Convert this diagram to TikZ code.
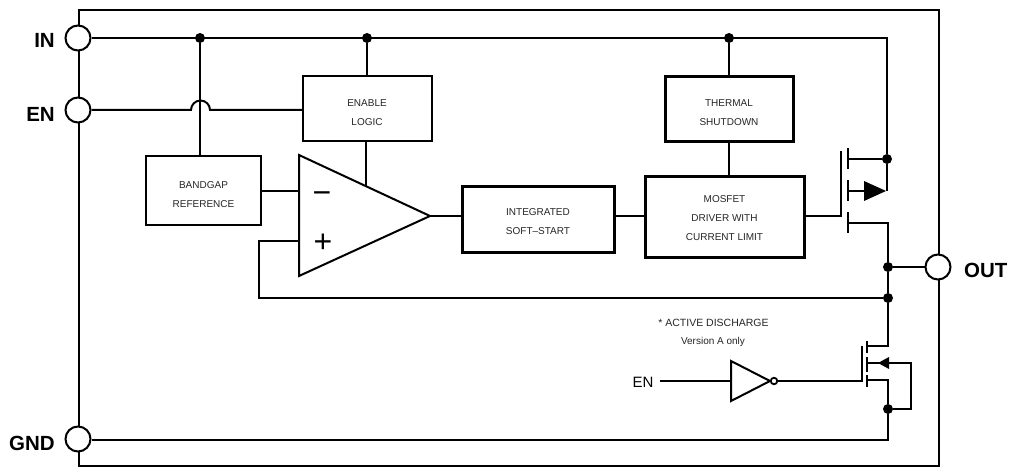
\documentclass[tikz,border=0pt]{standalone}
\usepackage{fontspec}
\setmainfont{Liberation Sans}
\usetikzlibrary{calc}
\tikzset{
  wire/.style={line width=2pt,black,line join=miter},
  blockbox/.style={draw,line width=2pt,fill=white,inner sep=0pt},
  heavybox/.style={blockbox,line width=3pt},
  blocktext/.style={align=center,inner sep=0pt,font=\fontsize{10}{19}\selectfont,text=black!85},
  pin/.style={circle,draw,line width=2pt,fill=white,minimum size=25pt,inner sep=0pt},
  dot/.style={circle,fill=black,minimum size=10pt,inner sep=0pt},
  pinlabel/.style={font=\fontsize{20.5}{24}\selectfont\bfseries,inner sep=0pt},
  note/.style={font=\fontsize{10.5}{12}\selectfont,inner sep=0pt,text=black!85},
  sign/.style={font=\fontsize{32}{32}\selectfont,inner sep=0pt},
  bar/.style={line width=2.2pt}
}
\begin{document}
\begin{tikzpicture}[x=1pt,y=-1pt]
\path[use as bounding box,fill=white] (0,0) rectangle (1010,468);
% package frame
\draw[wire] (79,10) rectangle (939,466);
% pins
\node[pin] (pinIN) at (78,38) {};
\node[pin] (pinEN) at (78,110) {};
\node[pin] (pinGND) at (78,439) {};
\node[pin] (pinOUT) at (938,267) {};
\node[pinlabel,anchor=east] (lblIN) at (55,40) {IN};
\node[pinlabel,anchor=east] (lblEN) at (55,114) {EN};
\node[pinlabel,anchor=east] (lblGND) at (55,443) {GND};
\node[pinlabel,anchor=west] (lblOUT) at (964,270) {OUT};
% blocks
\node[blockbox,minimum width=129pt,minimum height=65pt] (enable) at (367.5,108.5) {};
\node[blocktext] (enableT) at (367,112.5) {ENABLE\\LOGIC};
\node[blockbox,minimum width=115pt,minimum height=69pt] (bandgap) at (203.5,190.5) {};
\node[blocktext] (bandgapT) at (203.5,194.5) {BANDGAP\\REFERENCE};
\node[heavybox,minimum width=152pt,minimum height=65pt] (soft) at (538,219.5) {};
\node[blocktext] (softT) at (538,221.5) {INTEGRATED\\SOFT--START};
\node[heavybox,minimum width=128pt,minimum height=65pt] (thermal) at (729.5,109.5) {};
\node[blocktext] (thermalT) at (729,112.5) {THERMAL\\SHUTDOWN};
\node[heavybox,minimum width=159pt,minimum height=80pt] (driver) at (724.5,217) {};
\node[blocktext] (driverT) at (724.5,218) {MOSFET\\DRIVER WITH\\CURRENT LIMIT};
% error amplifier
\coordinate (ampTop) at (299,155);
\coordinate (ampBot) at (299,276);
\coordinate (ampOut) at (430,216);
\draw[wire] (ampTop) -- (ampOut) -- (ampBot) -- cycle;
\node[sign] (minus) at (322,198) {−};
\node[sign] (plus) at (323,243) {+};
\coordinate (ampNeg) at (299,191);
\coordinate (ampPos) at (299,241);
\coordinate (ampVdd) at (366,186);
% junctions
\node[dot] (j1) at (200,38) {};
\node[dot] (j2) at (367,38) {};
\node[dot] (j3) at (729,38) {};
\node[dot] (j4) at (887,159) {};
\node[dot] (j5) at (888,267) {};
\node[dot] (j6) at (888,298) {};
\node[dot] (j7) at (888,409) {};
% input rails
\coordinate (railEnd) at (887,38);
\coordinate (hopL) at (191,110);
\coordinate (hopR) at (210,110);
\draw[wire] (pinIN) -- (railEnd) -- (j4);
\draw[wire] (j1) -- (bandgap.north -| j1);
\draw[wire] (j2) -- (enable.north -| j2);
\draw[wire] (j3) -- (j3 |- thermal.north);
\draw[wire] (pinEN.east) -- (hopL) arc[start angle=180,end angle=360,radius=9.5] -- (enable.west |- hopR);
\draw[wire] (j3 |- thermal.south) -- (j3 |- driver.north);
\draw[wire] (enable.south -| ampVdd) -- (ampVdd);
\draw[wire] (bandgap.east |- ampNeg) -- (ampNeg);
\draw[wire] (ampOut) -- (soft.west |- ampOut);
\draw[wire] (soft.east |- ampOut) -- (driver.west |- ampOut);
% pass MOSFET
\coordinate (pgGate) at (841,216);
\coordinate (pgTop) at (841,151);
\coordinate (pgBase) at (848,191);
\coordinate (pgTip) at (887,191);
\coordinate (pgDrainBar) at (848,223);
\coordinate (pgDrainCorner) at (888,223);
\draw[wire] (driver.east |- pgGate) -- (pgGate);
\draw[bar] (pgTop) -- (841,217);
\draw[bar] (848,148) -- (848,169);
\draw[bar] (848,180) -- (848,201);
\draw[bar] (848,212) -- (848,233);
\draw[wire] (848,159) -- (j4);
\draw[wire] (j4) -- (pgTip);
\draw[wire] (pgBase) -- (865,191);
\fill (864,181) -- (886,191) -- (864,201) -- cycle;
\draw[wire] (pgDrainBar) -- (pgDrainCorner) -- (j5);
\draw[wire] (j5) -- (pinOUT);
\draw[wire] (j5) -- (j6);
% feedback
\coordinate (fbA) at (259,298);
\coordinate (fbB) at (259,241);
\draw[wire] (j6) -- (fbA) -- (fbB) -- (ampPos);
% discharge branch
\node[note] (note1) at (713.5,323) {* ACTIVE DISCHARGE};
\node[note,font=\fontsize{10}{12}\selectfont] (note2) at (713,342) {Version A only};
\node[font=\fontsize{15}{18}\selectfont,inner sep=0pt] (enIn) at (643,382) {EN};
\coordinate (invIn) at (731,381);
\coordinate (invTip) at (770,381);
\draw[wire] (731,361) -- (invTip) -- (731,401) -- cycle;
\node[circle,draw,line width=1.8pt,fill=white,minimum size=6.5pt,inner sep=0pt] (bubble) at (774,381) {};
\draw[wire] (660,381) -- (invIn);
\coordinate (dgGate) at (862,381);
\draw[wire] (bubble) -- (dgGate);
\draw[bar] (862,346) -- (862,382);
\draw[bar] (867,341) -- (867,353);
\draw[bar] (867,357) -- (867,372);
\draw[bar] (867,375) -- (867,387);
\coordinate (dgCornerTop) at (888,346);
\draw[wire] (j6) -- (dgCornerTop) -- (867,346);
\draw[wire] (867,363) -- (880,363);
\fill (878,363) -- (889,357) -- (889,369) -- cycle;
\coordinate (bodyA) at (911,363);
\coordinate (bodyB) at (911,409);
\draw[wire] (889,363) -- (bodyA) -- (bodyB) -- (j7);
\coordinate (gndCorner) at (888,440);
\draw[wire] (867,380) -- (888,380) -- (j7);
\draw[wire] (j7) -- (gndCorner) -- (pinGND.east |- gndCorner);
\end{tikzpicture}
\end{document}
